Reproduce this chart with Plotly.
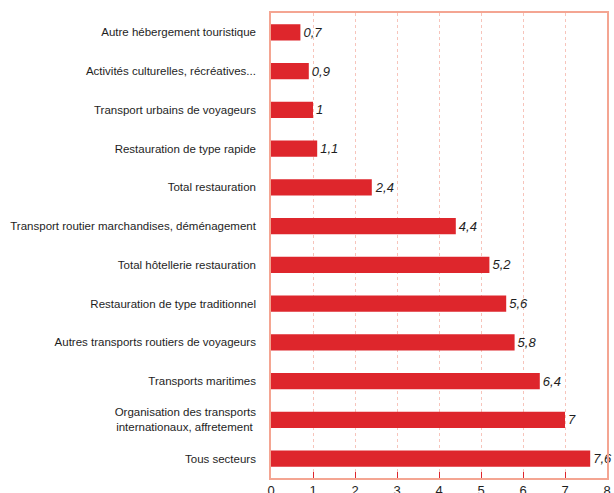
import plotly.graph_objects as go

categories = [
    "Autre hébergement touristique",
    "Activités culturelles, récréatives...",
    "Transport urbains de voyageurs",
    "Restauration de type rapide",
    "Total restauration",
    "Transport routier marchandises, déménagement",
    "Total hôtellerie restauration",
    "Restauration de type traditionnel",
    "Autres transports routiers de voyageurs",
    "Transports maritimes",
    "Organisation des transports<br>internationaux, affretement ",
    "Tous secteurs",
]
values = [0.7, 0.9, 1, 1.1, 2.4, 4.4, 5.2, 5.6, 5.8, 6.4, 7, 7.6]
x_ticks = [0, 1, 2, 3, 4, 5, 6, 7, 8]

FONT = "Liberation Sans, Arial, sans-serif"
RED = "#de262c"
BORDER = "#f4a592"
TXT = "#1e1e1e"

fig = go.Figure()
fig.add_trace(go.Bar(
    y=categories,
    x=values,
    orientation="h",
    marker=dict(color=RED, line=dict(width=0)),
    width=0.42,
    text=[f"{v:g}".replace(".", ",") for v in values],
    textposition="outside",
    textfont=dict(family=FONT, size=13, color=TXT, style="italic"),
    cliponaxis=False,
))

fig.update_layout(
    width=614, height=493,
    margin=dict(l=271, r=7, t=13, b=15),
    plot_bgcolor="white",
    paper_bgcolor="white",
    showlegend=False,
    font=dict(family=FONT, size=12, color=TXT),
    bargap=0.5,
)
fig.update_xaxes(
    range=[0, 8],
    tickvals=x_ticks,
    ticks="inside", ticklen=6, tickcolor=RED, tickwidth=1,
    showgrid=True, gridcolor="#f7c4bb", griddash="dot", gridwidth=1,
    showline=True, linecolor=BORDER, linewidth=1.5, mirror=True,
    zeroline=False, automargin=False,
    tickfont=dict(size=13, color=TXT),
)
fig.update_yaxes(
    categoryorder="array", categoryarray=categories,
    autorange="reversed",
    range=[11.5, -0.5],
    showline=True, linecolor=BORDER, linewidth=1.5, mirror=True,
    showgrid=False, ticks="", automargin=False,
    ticklabelstandoff=11,
    tickfont=dict(size=11.5, color=TXT),
)

fig.write_html(
    "out.html",
    config={"displayModeBar": False},
    post_script="document.body.style.margin='0';document.body.style.overflow='hidden';",
)
